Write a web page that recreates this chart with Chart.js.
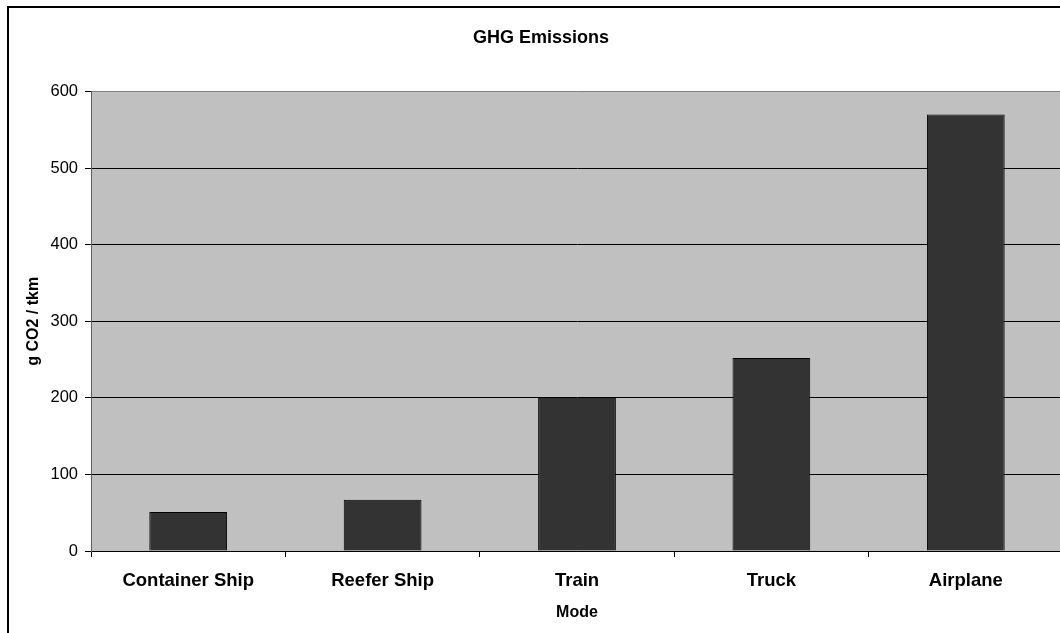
<!DOCTYPE html>
<html>
<head>
<meta charset="utf-8">
<script src="https://cdn.jsdelivr.net/npm/chart.js@4.4.1/dist/chart.umd.min.js"></script>
<style>
  html, body { margin: 0; padding: 0; width: 1060px; height: 633px; overflow: hidden; background: #fff; }
  #frame { position: absolute; left: 7px; top: 6px; width: 1200px; height: 800px; border: 2px solid #000; box-sizing: border-box; }
  #c { position: absolute; left: 0; top: 0; }
</style>
</head>
<body>
<div id="frame"></div>
<canvas id="c" width="1090" height="640"></canvas>
<script>
const chartTitle = 'GHG Emissions';
const categories = ['Container Ship', 'Reefer Ship', 'Train', 'Truck', 'Airplane'];
const emissions = [51, 67, 200, 252, 570];
const yAxisTitle = 'g CO2 / tkm';
const xAxisTitle = 'Mode';
const yMin = 0, yMax = 600, yStep = 100;

const FONT = "'Liberation Sans', Arial, sans-serif";

const plotBg = {
  id: 'plotBg',
  beforeDraw(chart) {
    const a = chart.chartArea, ctx = chart.ctx;
    ctx.save();
    ctx.fillStyle = '#c0c0c0';
    ctx.fillRect(a.left, a.top, a.right - a.left, a.bottom - a.top);
    ctx.restore();
  }
};

new Chart(document.getElementById('c'), {
  type: 'bar',
  data: {
    labels: categories,
    datasets: [{
      data: emissions,
      backgroundColor: '#333333',
      borderColor: '#000000',
      borderWidth: 1,
      barPercentage: 0.4,
      categoryPercentage: 1.0
    }]
  },
  plugins: [plotBg],
  options: {
    responsive: false,
    animation: false,
    devicePixelRatio: 1,
    layout: { padding: { left: 19, right: 27, top: 0, bottom: 18 } },
    plugins: {
      legend: { display: false },
      tooltip: { enabled: false },
      title: {
        display: true,
        text: chartTitle,
        color: '#000',
        font: { family: FONT, size: 18, weight: 'bold' },
        padding: { top: 27, bottom: 43 }
      }
    },
    scales: {
      x: {
        afterFit(s) { s.height = 71; },
        grid: { drawOnChartArea: false, drawTicks: true, tickLength: 6, offset: true, color: '#000', tickColor: '#000' },
        border: { display: true, color: '#000', width: 1 },
        ticks: { color: '#000', padding: 13, maxRotation: 0, font: { family: FONT, size: 18.5, weight: 'bold' } },
        title: { display: true, text: xAxisTitle, color: '#000', font: { family: FONT, size: 16, weight: 'bold' }, padding: { top: 5, bottom: 0 } }
      },
      y: {
        min: yMin, max: yMax,
        afterFit(s) { s.width = 72; },
        grid: {
          color: (c) => (c.tick && c.tick.value === yMax) ? '#808080' : '#000',
          tickColor: '#000',
          tickLength: 6,
          lineWidth: 1
        },
        border: { display: true, color: '#606060', width: 1 },
        ticks: { stepSize: yStep, color: '#000', padding: 7, font: { family: FONT, size: 16.5 } },
        title: { display: true, text: yAxisTitle, color: '#000', font: { family: FONT, size: 16, weight: 'bold' }, padding: { top: 5, bottom: 0 } }
      }
    }
  }
});
</script>
</body>
</html>
